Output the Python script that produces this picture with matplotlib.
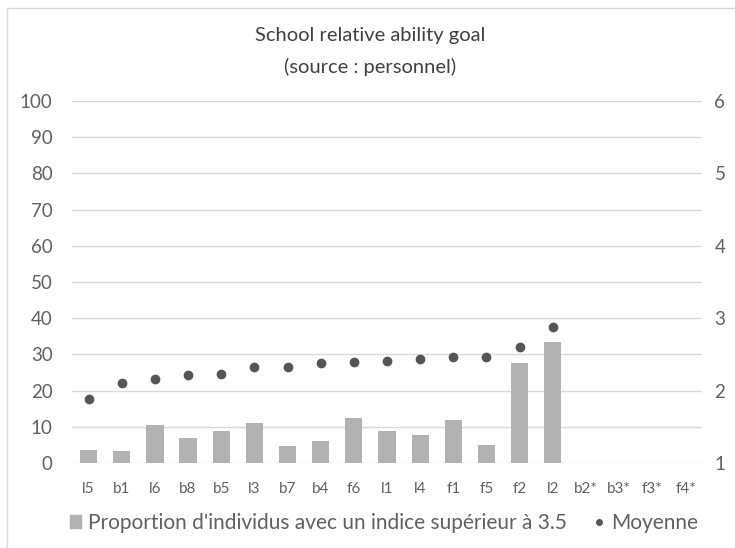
import numpy as np
import matplotlib
matplotlib.use("Agg")
import matplotlib.pyplot as plt
from matplotlib.patches import Rectangle
from matplotlib.lines import Line2D

plt.rcParams['font.family'] = ['Lato', 'DejaVu Sans']

categories = ["l5", "b1", "l6", "b8", "b5", "l3", "b7", "b4", "f6", "l1",
              "l4", "f1", "f5", "f2", "l2", "b2*", "b3*", "f3*", "f4*"]
proportion = [3.6, 3.3, 10.5, 6.9, 8.9, 11.0, 4.6, 6.2, 12.3, 8.8,
              7.8, 12.0, 5.1, 27.5, 33.3, np.nan, np.nan, np.nan, np.nan]
moyenne = [1.88, 2.10, 2.16, 2.21, 2.23, 2.32, 2.33, 2.38, 2.40, 2.41,
           2.44, 2.46, 2.47, 2.60, 2.88, np.nan, np.nan, np.nan, np.nan]

text_color = "#606060"
grid_color = "#d9d9d9"
bar_color = "#b2b2b2"
dot_color = "#555555"

fig = plt.figure(figsize=(7.35, 5.48), dpi=100)
# chart frame: only the top and left edges fall inside the canvas
fig.patches.append(Rectangle((7 / 735, -0.05), 1.0, 1.05 - 8 / 548,
                             transform=fig.transFigure, fill=False,
                             edgecolor="#d9d9d9", linewidth=1.0))

ax = fig.add_axes([72 / 735, 1 - 463 / 548, 630 / 735, 362 / 548])
x = np.arange(len(categories))
ax.bar(x, proportion, width=0.52, color=bar_color, zorder=2)
ax.set_ylim(0, 100)
ax.set_xlim(-0.5, len(categories) - 0.5)
ax.set_yticks(np.arange(0, 101, 10))
ax.yaxis.grid(True, color=grid_color, linewidth=1.0, zorder=0)
ax.set_axisbelow(True)
for s in ax.spines.values():
    s.set_visible(False)
ax.tick_params(axis='y', length=0, pad=14, labelsize=13.5, labelcolor=text_color)
ax.tick_params(axis='x', length=0, pad=14, labelsize=11, labelcolor=text_color)
ax.set_xticks(x)
ax.set_xticklabels(categories)

ax2 = ax.twinx()
ax2.scatter(x, moyenne, s=36, color=dot_color, zorder=3)
ax2.set_ylim(1, 6)
ax2.set_yticks([1, 2, 3, 4, 5, 6])
for s in ax2.spines.values():
    s.set_visible(False)
ax2.tick_params(axis='y', length=0, pad=9, labelsize=13.5, labelcolor=text_color)

fig.text(370 / 735, 1 - 36 / 548, "School relative ability goal",
         ha='center', va='center', fontsize=14.5, color="#404040")
fig.text(370 / 735, 1 - 67 / 548, "(source : personnel)",
         ha='center', va='center', fontsize=14.5, color="#404040")

handles = [Rectangle((0, 0), 1, 1, color=bar_color),
           Line2D([], [], marker='o', linestyle='none', color=dot_color, markersize=4)]
leg = fig.legend(handles, ["Proportion d'individus avec un indice supérieur à 3.5", "Moyenne"],
                 loc='center', bbox_to_anchor=(384 / 735, 1 - 523 / 548), ncol=2,
                 frameon=False, handlelength=0.55, handleheight=0.6, handletextpad=0.3,
                 columnspacing=1.3, prop={'size': 15})
for t in leg.get_texts():
    t.set_color(text_color)

fig.savefig("out.png", dpi=100)
